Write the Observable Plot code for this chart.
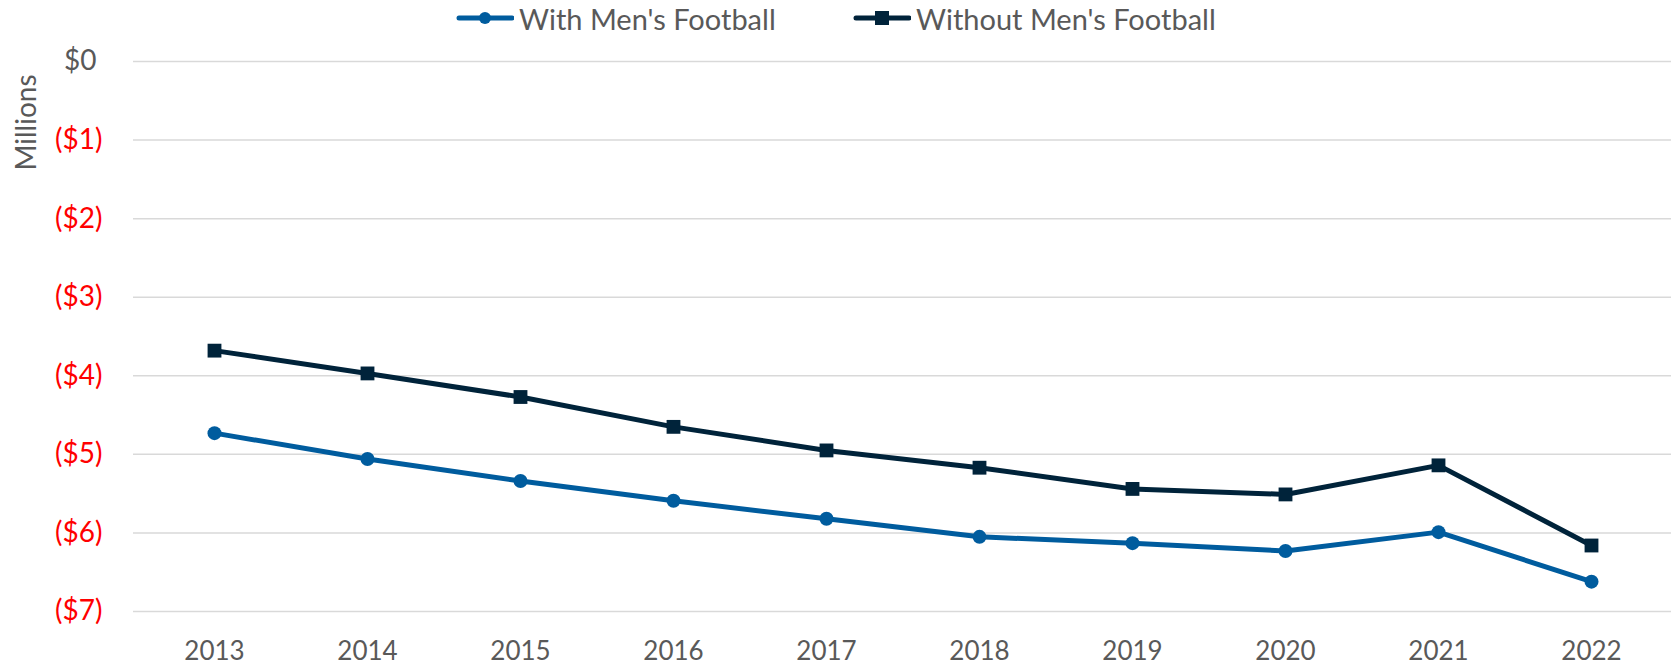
<!DOCTYPE html>
<html>
<head>
<meta charset="utf-8">
<script src="https://cdn.jsdelivr.net/npm/d3@7"></script>
<script src="https://cdn.jsdelivr.net/npm/@observablehq/plot@0.6"></script>
<style>
  body { margin: 0; background: #fff; font-family: Lato, "Open Sans", sans-serif; }
  #wrap { position: relative; width: 1675px; height: 667px; }
  #legend { position: relative; height: 36px; width: 1675px; }
  .lg { position: absolute; top: 0; height: 36px; display: flex; align-items: center; font-size: 29px; color: #595959; white-space: nowrap; }
  .lg svg { margin-right: 5px; }
</style>
</head>
<body>
<div id="wrap">
  <div id="legend"></div>
  <div id="chart"></div>
</div>
<script>
const years = ["2013","2014","2015","2016","2017","2018","2019","2020","2021","2022"];
const withFootball = [-4.73, -5.06, -5.34, -5.59, -5.82, -6.05, -6.13, -6.23, -5.99, -6.62];
const withoutFootball = [-3.68, -3.97, -4.27, -4.65, -4.95, -5.17, -5.44, -5.51, -5.14, -6.16];
const seriesNames = ["With Men's Football", "Without Men's Football"];
const seriesColors = ["#005c9e", "#00233a"];
const yTicks = [0, -1, -2, -3, -4, -5, -6, -7];
const yAxisTitle = "Millions";

const rows = [];
years.forEach((yr, i) => {
  rows.push({year: yr, value: withFootball[i], series: seriesNames[0]});
  rows.push({year: yr, value: withoutFootball[i], series: seriesNames[1]});
});
const fmt = d => d === 0 ? "$0" : `($${Math.abs(d)})`;

const chart = Plot.plot({
  width: 1675,
  height: 631,
  marginLeft: 133,
  marginRight: 4,
  marginTop: 25,
  marginBottom: 56,
  style: {fontFamily: "Lato, 'Open Sans', sans-serif", fontSize: "26px", color: "#595959", background: "#fff"},
  x: {type: "point", domain: years, padding: 0.5, label: null},
  y: {domain: [-7, 0], label: null, axis: null},
  color: {domain: seriesNames, range: seriesColors},
  marks: [
    Plot.ruleY(yTicks, {stroke: "#d9d9d9", strokeWidth: 1.5}),
    Plot.text(yTicks.filter(d => d < 0), {y: d => d, frameAnchor: "left", text: fmt, textAnchor: "end",
      lineAnchor: "middle", dx: -31, fill: "#ff0000", fontSize: 28}),
    Plot.text(yTicks.filter(d => d >= 0), {y: d => d, frameAnchor: "left", text: fmt, textAnchor: "end",
      lineAnchor: "middle", dx: -37, fill: "#595959", fontSize: 28}),
    Plot.text([yAxisTitle], {frameAnchor: "top-left", text: d => d, rotate: -90,
      textAnchor: "middle", lineAnchor: "middle",
      dx: -106, dy: 61, fill: "#595959", fontSize: 28}),
    Plot.axisX({tickSize: 0, tickPadding: 30, fontSize: 26, fill: "#595959", label: null}),
    Plot.line(rows, {x: "year", y: "value", z: "series", stroke: "series", strokeWidth: 5}),
    Plot.dot(rows.filter(d => d.series === seriesNames[0]), {x: "year", y: "value", r: 7, fill: seriesColors[0], stroke: "none"}),
    Plot.dot(rows.filter(d => d.series === seriesNames[1]), {x: "year", y: "value", r: 7.8, symbol: "square", fill: seriesColors[1], stroke: "none"})
  ]
});
document.getElementById("chart").appendChild(chart);

// Legend
const legend = document.getElementById("legend");
const lgPos = [456, 853];
seriesNames.forEach((name, i) => {
  const el = document.createElement("div");
  el.className = "lg";
  el.style.left = lgPos[i] + "px";
  const marker = i === 0
    ? `<circle cx="29" cy="18" r="6" fill="${seriesColors[i]}"/>`
    : `<rect x="22" y="11" width="14" height="14" fill="${seriesColors[i]}"/>`;
  el.innerHTML = `<svg width="58" height="36"><line x1="3" x2="56" y1="18" y2="18" stroke="${seriesColors[i]}" stroke-width="5" stroke-linecap="round"/>${marker}</svg><span>${name}</span>`;
  legend.appendChild(el);
});
</script>
</body>
</html>
